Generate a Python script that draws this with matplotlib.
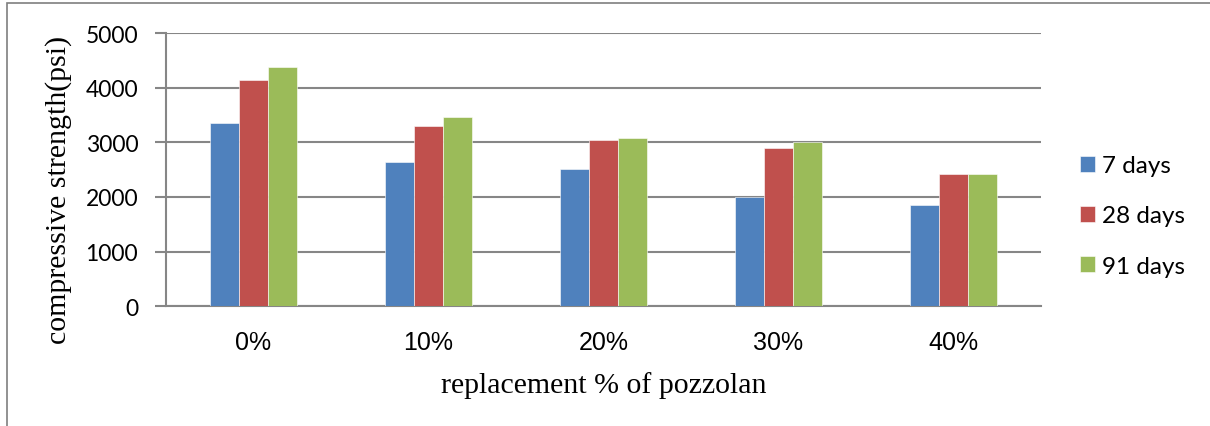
import numpy as np
import matplotlib
matplotlib.use("Agg")
import matplotlib.pyplot as plt
from matplotlib.patches import Rectangle

# data
categories = ["0%", "10%", "20%", "30%", "40%"]
series = ["7 days", "28 days", "91 days"]
days7 = [3360, 2646, 2512, 2006, 1854]
days28 = [4134, 3293, 3043, 2896, 2415]
days91 = [4384, 3457, 3079, 3000, 2421]
yticks = [0, 1000, 2000, 3000, 4000, 5000]

colors = ["#4F81BD", "#C0504D", "#9BBB59"]
grid_col = "#868686"

W, H = 1210, 427
fig = plt.figure(figsize=(W / 100, H / 100), dpi=100)
# axes: x 166..1041, y 34..307 (pixels)
ax = fig.add_axes([166 / W, 1 - 307.3 / H, 875 / W, 273.3 / H])

x = np.arange(len(categories))
w = 1 / 6
for i, (vals, c, name) in enumerate(zip([days7, days28, days91], colors, series)):
    ax.bar(x + (i - 1) * w, vals, width=w, color=c, label=name, zorder=3,
           edgecolor="white", linewidth=0.4)

ax.set_xlim(-0.5, len(categories) - 0.5)
ax.set_ylim(0, 5000)
ax.set_yticks(yticks)
ax.set_yticklabels([str(t) for t in yticks], fontfamily="Lato", fontsize=16.5)
ax.set_xticks(x)
ax.set_xticklabels(categories, fontfamily="Liberation Sans", fontsize=18)
ax.tick_params(axis="y", length=8, color=grid_col, width=1.5, pad=12)
ax.tick_params(axis="x", length=0, pad=17)
ax.yaxis.grid(True, color=grid_col, linewidth=1.5, zorder=0)
ax.set_axisbelow(True)
for s in ["top", "right"]:
    ax.spines[s].set_visible(False)
for s in ["left", "bottom"]:
    ax.spines[s].set_color(grid_col)
    ax.spines[s].set_linewidth(1.5)

ax.set_ylabel("compressive strength(psi)", fontfamily="Liberation Serif",
              fontsize=21.5)
ax.yaxis.set_label_coords(-0.1074, 0.431)
ax.set_xlabel("replacement % of pozzolan", fontfamily="Liberation Serif",
              fontsize=21.5, labelpad=12)

leg = fig.legend(loc="center left", bbox_to_anchor=(1080 / W, 1 - 217 / H),
                 frameon=False, prop={"family": "Lato", "size": 17.5},
                 handlelength=0.62, handleheight=0.62, handletextpad=0.3,
                 labelspacing=1.2, borderpad=0, borderaxespad=0)

# outer border of the picture
fig.patches.append(Rectangle((7 / W, -0.1), 1.2, 1 - 4 / H + 0.1,
                             transform=fig.transFigure, fill=False,
                             edgecolor="#7f7f7f", linewidth=1.2))

fig.savefig("out.png", dpi=100)
